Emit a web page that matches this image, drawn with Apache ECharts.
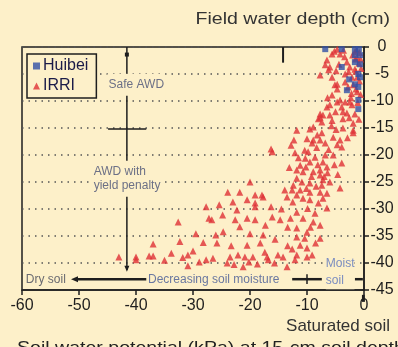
<!DOCTYPE html>
<html>
<head>
<meta charset="utf-8">
<script src="https://cdn.jsdelivr.net/npm/echarts@6/dist/echarts.min.js"></script>
<style>
  html, body { margin: 0; padding: 0; background: #fdf0c9; }
  #chart { width: 398px; height: 347px; }
</style>
</head>
<body>
<div id="chart"></div>
<script>
// Soil water potential (kPa, at 15 cm) vs. field water depth (cm)
const seriesNames = ['Huibei', 'IRRI'];

const xTicks = [-60, -50, -40, -30, -20, -10, 0];
const yTicks = [0, -5, -10, -15, -20, -25, -30, -35, -40, -45];

// Huibei observations [kPa, cm]
const huibei = [
  [-6.8, -0.4], [-3.9, -0.4], [-1.6, -0.4], [-0.9, -0.4], [-0.7, -1.5], [-1.6, -1.5],
  [-3.9, -3.7], [-1.0, -5.0], [-0.7, -5.6], [-3.0, -8.0], [-1.0, -7.4], [-1.0, -9.8],
  [-1.0, -11.5], [-1.6, -2.8], [-0.7, -3.2], [-1.6, -6.9], [-2.6, -6.0]
];

// IRRI observations [kPa, cm]
const irri = [
  // shallow water table
  [-4.7, -0.4], [-4.2, -1.3], [-5.6, -1.3], [-1.6, -0.9], [-1.2, -1.9], [-6.5, -2.4],
  [-6.8, -3.3], [-6.0, -3.7], [-3.0, -2.8], [-2.5, -3.7], [-1.6, -4.1], [-7.7, -5.2],
  [-5.6, -5.6], [-3.3, -5.0], [-2.1, -5.6], [-4.7, -6.9], [-3.3, -6.5], [-2.8, -7.4],
  [-1.9, -7.0], [-5.6, -8.9], [-4.2, -9.8], [-3.3, -10.2], [-2.5, -10.2], [-6.0, -10.7],
  [-3.9, -11.1], [-2.1, -10.7], [-7.7, -12.4], [-7.2, -12.6], [-6.0, -12.6], [-3.7, -12.0],
  [-3.7, -13.3], [-1.2, -5.6], [-1.2, -8.3], [-4.7, -7.8], [-1.6, -12.4], [-8.0, -13.3],
  [-1.3, -0.5], [-0.8, -1.0], [-1.5, -2.2], [-0.9, -3.0], [-1.4, -4.5], [-0.8, -6.3],
  [-1.4, -7.8], [-0.6, -8.8], [-5.2, -0.8], [-3.6, -0.6], [-6.2, -4.2], [-4.4, -3.2],
  [-2.2, -8.6], [-6.4, -9.4], [-5.1, -7.0], [-4.7, -10.2], [-6.5, -11.1], [-7.7, -13.0],
  [-5.6, -13.6], [-3.0, -12.2], [-1.9, -14.1], [-1.9, -15.4],
  [-2.0, -1.5], [-3.4, -1.8], [-2.7, -4.6], [-4.9, -4.4], [-0.5, -4.0], [-0.6, -2.2],
  [-2.3, -9.4], [-1.1, -10.3], [-5.0, -12.0], [-2.6, -13.1], [-0.9, -13.4],
  // intermediate depths
  [-11.8, -15.4], [-8.9, -14.8], [-7.4, -15.9], [-7.7, -17.2], [-6.8, -17.8], [-5.4, -16.7],
  [-4.2, -17.2], [-3.7, -15.0], [-1.9, -15.9], [-8.9, -17.2], [-9.1, -17.8], [-9.8, -19.4],
  [-4.7, -18.1], [-3.9, -18.5], [-6.8, -20.0], [-5.4, -20.0], [-3.9, -21.5], [-7.2, -21.3],
  [-11.2, -21.9], [-11.8, -22.8], [-10.7, -23.1], [-8.9, -23.1], [-7.7, -22.8], [-7.7, -23.7],
  [-7.2, -24.6], [-11.8, -24.3], [-10.9, -25.0], [-9.5, -25.2], [-7.4, -25.6], [-6.0, -25.0],
  [-4.2, -26.1], [-12.6, -26.5], [-11.2, -26.5], [-9.5, -26.9], [-7.7, -26.9], [-6.5, -27.1],
  [-11.8, -27.4], [-12.1, -19.6], [-10.4, -19.1], [-9.5, -21.3], [-7.4, -13.9], [-8.2, -16.3],
  [-6.5, -22.2], [-9.5, -15.2], [-16.1, -19.4], [-16.3, -18.9], [-20.0, -25.0], [-23.9, -26.9],
  [-21.8, -26.9], [-17.9, -27.4], [-19.1, -27.4], [-13.9, -26.5], [-13.5, -27.8], [-8.3, -18.6],
  [-8.6, -20.4], [-10.0, -17.0], [-6.2, -19.0], [-12.3, -17.2], [-9.2, -24.0], [-8.4, -25.8],
  [-10.3, -20.6], [-7.0, -24.0],
  [-12.8, -18.2], [-11.5, -20.5], [-10.2, -22.2], [-8.1, -21.8], [-6.4, -23.3], [-5.2, -21.8],
  [-4.6, -23.6], [-12.4, -25.6], [-10.1, -26.2], [-13.1, -22.3], [-5.7, -14.6], [-2.9, -16.8],
  [-4.9, -15.3],
  // deep water table
  [-43.0, -38.9], [-40.0, -39.4], [-40.0, -38.9], [-37.7, -38.7], [-37.0, -38.7], [-37.0, -36.5],
  [-32.6, -32.4], [-31.8, -39.0], [-30.9, -38.5], [-30.9, -40.5], [-30.0, -37.8], [-28.9, -39.8],
  [-27.7, -39.4], [-27.7, -29.6], [-27.2, -31.7], [-23.0, -28.7], [-20.5, -28.3], [-19.1, -28.9],
  [-17.7, -27.8], [-19.1, -29.6], [-22.6, -32.0], [-20.5, -31.7], [-19.1, -32.0], [-16.1, -31.5],
  [-14.7, -32.0], [-26.7, -32.0], [-21.8, -33.3], [-25.8, -36.3], [-20.5, -36.7], [-18.2, -36.3],
  [-22.1, -38.5], [-20.9, -38.9], [-19.5, -38.9], [-17.0, -38.9], [-15.1, -38.5], [-14.2, -38.9],
  [-23.5, -38.9], [-26.5, -39.1], [-24.0, -40.0], [-21.2, -40.7], [-17.4, -38.0], [-16.8, -39.4],
  [-13.5, -40.7], [-17.7, -34.8], [-12.5, -28.7], [-10.7, -28.0], [-9.5, -28.3], [-7.2, -28.0],
  [-6.5, -29.8], [-11.8, -30.6], [-10.7, -31.7], [-8.9, -32.4], [-7.7, -33.0], [-11.8, -33.5],
  [-10.0, -34.3], [-11.8, -35.2], [-10.4, -35.4], [-7.7, -35.4], [-11.2, -36.7], [-10.0, -37.2],
  [-11.8, -38.5], [-10.0, -38.9], [-9.1, -38.5], [-12.1, -39.4], [-29.5, -34.6], [-28.2, -36.2],
  [-33.8, -38.2], [-24.7, -34.2], [-15.6, -35.6], [-13.4, -33.4], [-14.5, -30.0], [-16.3, -29.6],
  [-13.4, -36.8], [-18.7, -40.2], [-25.4, -29.2], [-22.3, -30.2],
  [-8.0, -28.9], [-9.9, -29.9], [-12.9, -31.7], [-9.4, -33.4], [-8.5, -36.3], [-12.6, -37.4],
  [-8.6, -30.8], [-35.0, -39.5], [-32.3, -36.0], [-26.0, -34.8], [-23.3, -36.8], [-20.0, -34.6],
  [-24.8, -31.1], [-17.3, -33.0], [-15.7, -40.0], [-20.2, -39.8], [-22.8, -40.3]
];

const FONT = '"Liberation Sans", Arial, sans-serif';
const BG = '#fdf0c9';
const INK = '#1e1e1e';
const NOTE = '#6c7086';

const chart = echarts.init(document.getElementById('chart'), null, { renderer: 'canvas' });

chart.setOption({
  backgroundColor: BG,
  animation: false,
  grid: {
    left: 22, right: 34, top: 47, bottom: 57,
    show: true, borderColor: INK, borderWidth: 1.5, backgroundColor: 'transparent'
  },
  legend: {
    orient: 'vertical',
    left: 27, top: 54,
    padding: [4, 8, 4, 6],
    itemGap: 4,
    itemWidth: 7, itemHeight: 7,
    borderColor: INK, borderWidth: 1.5,
    backgroundColor: BG,
    textStyle: { fontFamily: FONT, fontSize: 16, color: '#1b1b48', padding: [0, 0, 0, -2] },
    data: [
      { name: seriesNames[0], icon: 'rect' },
      { name: seriesNames[1], icon: 'triangle' }
    ]
  },
  xAxis: {
    type: 'value',
    min: xTicks[0], max: xTicks[xTicks.length - 1], interval: 10,
    axisLine: { show: true, onZero: false, lineStyle: { color: INK, width: 1.5 } },
    axisTick: { show: true, length: 5, lineStyle: { color: INK, width: 1.5 } },
    axisLabel: { fontFamily: FONT, fontSize: 16, color: INK, margin: 8 },
    splitLine: { show: false }
  },
  yAxis: {
    type: 'value',
    position: 'right',
    min: yTicks[yTicks.length - 1], max: yTicks[0], interval: 5,
    axisLine: { show: true, onZero: false, lineStyle: { color: INK, width: 1.5 } },
    axisTick: { show: true, length: 5, lineStyle: { color: INK, width: 1.5 } },
    axisLabel: { fontFamily: FONT, fontSize: 16, color: INK, align: 'center', margin: 18 },
    splitLine: { show: true, lineStyle: { color: '#555', type: [1.5, 5], width: 1.5 } }
  },
  series: [
    {
      name: seriesNames[1], type: 'scatter', data: irri,
      symbol: 'triangle', symbolSize: 7,
      itemStyle: { color: '#df3136' }, z: 2
    },
    {
      name: seriesNames[0], type: 'scatter', data: huibei,
      symbol: 'rect', symbolSize: 6,
      itemStyle: { color: '#3150a6' }, z: 3
    }
  ]
});

// annotation overlay, placed in data coordinates
const P = (x, y) => chart.convertToPixel({ gridIndex: 0 }, [x, y]);

function seg(a, b, w) {
  const p = P(a[0], a[1]), q = P(b[0], b[1]);
  return { type: 'line', shape: { x1: p[0], y1: p[1], x2: q[0], y2: q[1] },
           style: { stroke: INK, lineWidth: w || 1.5 }, z: 20 };
}
function note(x, y, text, opts) {
  const p = P(x, y);
  return {
    type: 'text', x: p[0], y: p[1], z: 30,
    style: Object.assign({
      text: text, fill: NOTE, font: '12px ' + FONT,
      textVerticalAlign: 'middle', textAlign: 'left',
      backgroundColor: BG, padding: [2, 1]
    }, opts || {})
  };
}
function arrowHead(x, y, dir) {
  const p = P(x, y);
  let pts;
  if (dir === 'down') pts = [[p[0] - 2.5, p[1] - 6], [p[0] + 2.5, p[1] - 6], [p[0], p[1]]];
  else pts = [[p[0] + 7, p[1] - 3], [p[0] + 7, p[1] + 3], [p[0], p[1]]];
  return { type: 'polygon', shape: { points: pts }, style: { fill: INK }, z: 21 };
}

const vx = -41.6;
const capPt = P(vx, -1.4);
const graphics = [
  // AWD threshold arrow
  seg([vx, 0], [vx, -41.3]),
  arrowHead(vx, -41.6, 'down'),
  { type: 'rect', shape: { x: capPt[0] - 2, y: capPt[1] - 2, width: 4, height: 4 }, style: { fill: INK }, z: 21 },
  seg([-44.9, -15.2], [-38.2, -15.2]),
  note(-45.0, -7.0, 'Safe AWD', { padding: [5, 1] }),
  note(-47.6, -24.4, 'AWD with\nyield penalty', { lineHeight: 14, padding: [4, 1] }),
  // short marker near the top border
  seg([-14.2, 0], [-14.2, -2.9], 2),
  // soil moisture gradient along the bottom
  seg([-50.6, -43.0], [-38.2, -43.0], 2.5),
  arrowHead(-51.4, -43.0, 'left'),
  note(-59.5, -43.0, 'Dry soil', { fill: '#6a6a70' }),
  note(-37.9, -43.0, 'Decreasing soil moisture', { fill: '#6a78a0', padding: [1, 0] }),
  seg([-12.6, -43.0], [-7.4, -43.0], 2.5),
  seg([-10.0, -42.1], [-10.0, -43.9], 1.5),
  note(-6.7, -41.7, 'Moist\nsoil', { fill: '#7a8cc0', lineHeight: 17, padding: [0, 0] }),
  seg([-1.6, -43.0], [-0.2, -43.0], 2.5),
  seg([-0.1, -45.9], [-0.1, -47.2], 3),
  // axis titles (slightly widened lettering)
  { type: 'text', x: 390, y: 11, scaleX: 1.15, z: 30,
    style: { text: 'Field water depth (cm)', fill: '#333', font: '17px ' + FONT, textAlign: 'right' } },
  { type: 'text', x: 390, y: 318, z: 30,
    style: { text: 'Saturated soil', fill: '#333', font: '17px ' + FONT, textAlign: 'right' } },
  { type: 'text', x: 17, y: 340, scaleX: 1.15, z: 30,
    style: { text: 'Soil water potential (kPa) at 15-cm soil depth', fill: '#222', font: '17px ' + FONT } }
];
chart.setOption({ graphic: graphics });
</script>
</body>
</html>
